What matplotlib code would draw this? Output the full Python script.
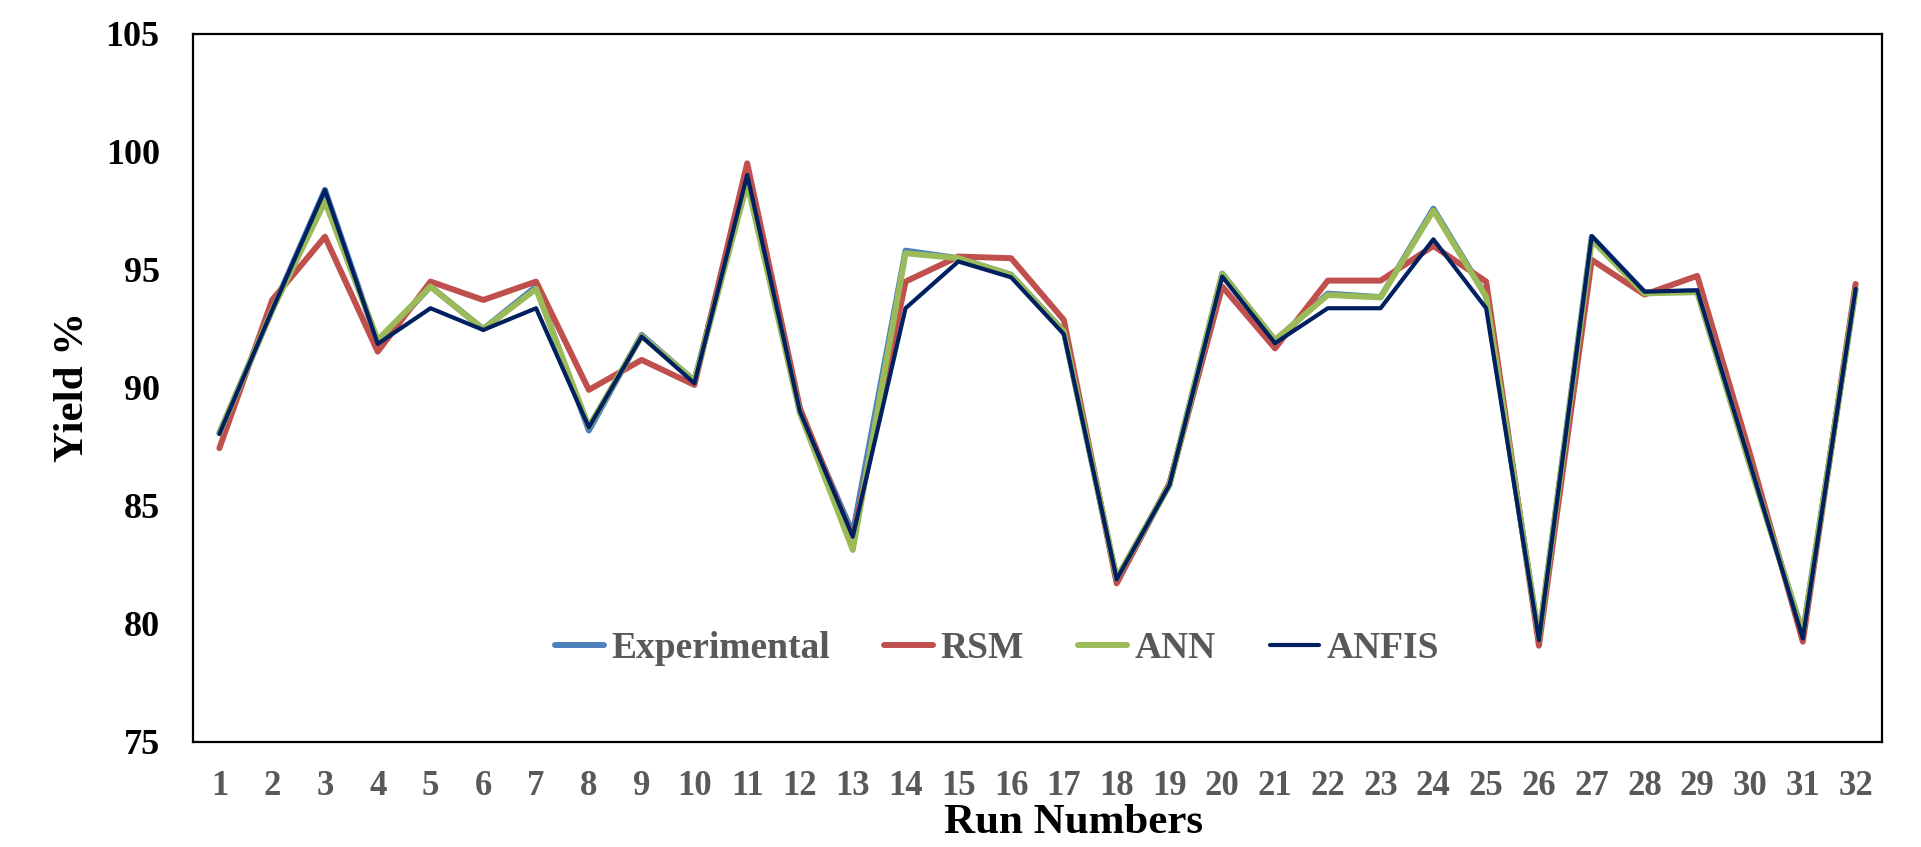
import matplotlib
matplotlib.use("Agg")
import matplotlib.pyplot as plt

plt.rcParams['font.family'] = ['Liberation Serif', 'DejaVu Serif']
plt.rcParams['font.weight'] = 'bold'

runs = list(range(1, 33))
experimental = [88.1, 93.3, 98.4, 91.9, 94.3, 92.5, 94.3, 88.2, 92.25, 90.3,
                99.0, 89.0, 83.85, 95.82, 95.5, 94.8, 92.4, 81.9, 85.9, 94.85,
                92.0, 94.0, 93.85, 97.6, 93.9, 79.4, 96.4, 94.05, 94.1, 86.75,
                79.6, 94.2]
rsm = [87.45, 93.73, 96.41, 91.54, 94.51, 93.73, 94.51, 89.92, 91.19, 90.13,
       99.52, 89.14, 83.6, 94.51, 95.57, 95.5, 92.88, 81.72, 85.96, 94.3,
       91.68, 94.55, 94.55, 96.02, 94.51, 79.08, 95.43, 93.96, 94.75, 87.2,
       79.25, 94.41]
ann = [88.08, 93.3, 97.9, 92.04, 94.3, 92.49, 94.2, 88.36, 92.2, 90.31,
       98.67, 88.93, 83.14, 95.71, 95.5, 94.79, 92.39, 81.94, 85.89, 94.83,
       92.04, 93.94, 93.84, 97.52, 93.87, 79.4, 96.27, 94.01, 94.06, 86.7,
       79.6, 94.15]
anfis = [88.05, 93.3, 98.39, 91.87, 93.38, 92.46, 93.38, 88.33, 92.18, 90.2,
         99.03, 89.0, 83.7, 93.38, 95.36, 94.69, 92.28, 81.89, 85.89, 94.72,
         91.9, 93.38, 93.38, 96.3, 93.38, 79.32, 96.44, 94.08, 94.14, 86.8,
         79.39, 94.2]
y_ticks = [75, 80, 85, 90, 95, 100, 105]

fig = plt.figure(figsize=(19.21, 8.47), dpi=100)
ax = fig.add_axes([193/1921, 1-742/847, (1882-193)/1921, (742-34)/847])

ax.plot(runs, experimental, color='#4F81BD', lw=4.3, label='Experimental', solid_capstyle='round')
ax.plot(runs, rsm, color='#C0504D', lw=4.3, label='RSM', solid_capstyle='round')
ax.plot(runs, ann, color='#9BBB59', lw=4.3, label='ANN', solid_capstyle='round')
ax.plot(runs, anfis, color='#002060', lw=3.0, label='ANFIS', solid_capstyle='round')

ax.set_xlim(0.5, 32.5)
ax.set_ylim(75, 105)
ax.set_yticks(y_ticks)
ax.set_xticks(runs)
ax.set_xticklabels([str(r) for r in runs])
ax.tick_params(axis='both', length=0)
ax.tick_params(axis='y', labelsize=26, pad=24, labelcolor='black')
ax.tick_params(axis='x', labelsize=25, pad=20, labelcolor='#595959')
for lab in ax.get_xticklabels() + ax.get_yticklabels():
    lab.set_fontweight('bold')
for sp in ax.spines.values():
    sp.set_linewidth(1.6)
    sp.set_color('black')

fig.text(1073/1921, 1-823/847, 'Run Numbers', ha='center', va='center',
         fontsize=31, fontweight='bold')
fig.text(73/1921, 1-387/847, 'Yield %', ha='center', va='center',
         rotation=90, fontsize=31, fontweight='bold')

leg = ax.legend(loc='center', bbox_to_anchor=((997-193)/1689, (742-649)/708),
                ncol=4, frameon=False, fontsize=27, handlelength=1.3,
                handletextpad=0.2, columnspacing=1.45)
for t in leg.get_texts():
    t.set_color('#595959')
    t.set_fontweight('bold')

fig.savefig('out.png', dpi=100)
